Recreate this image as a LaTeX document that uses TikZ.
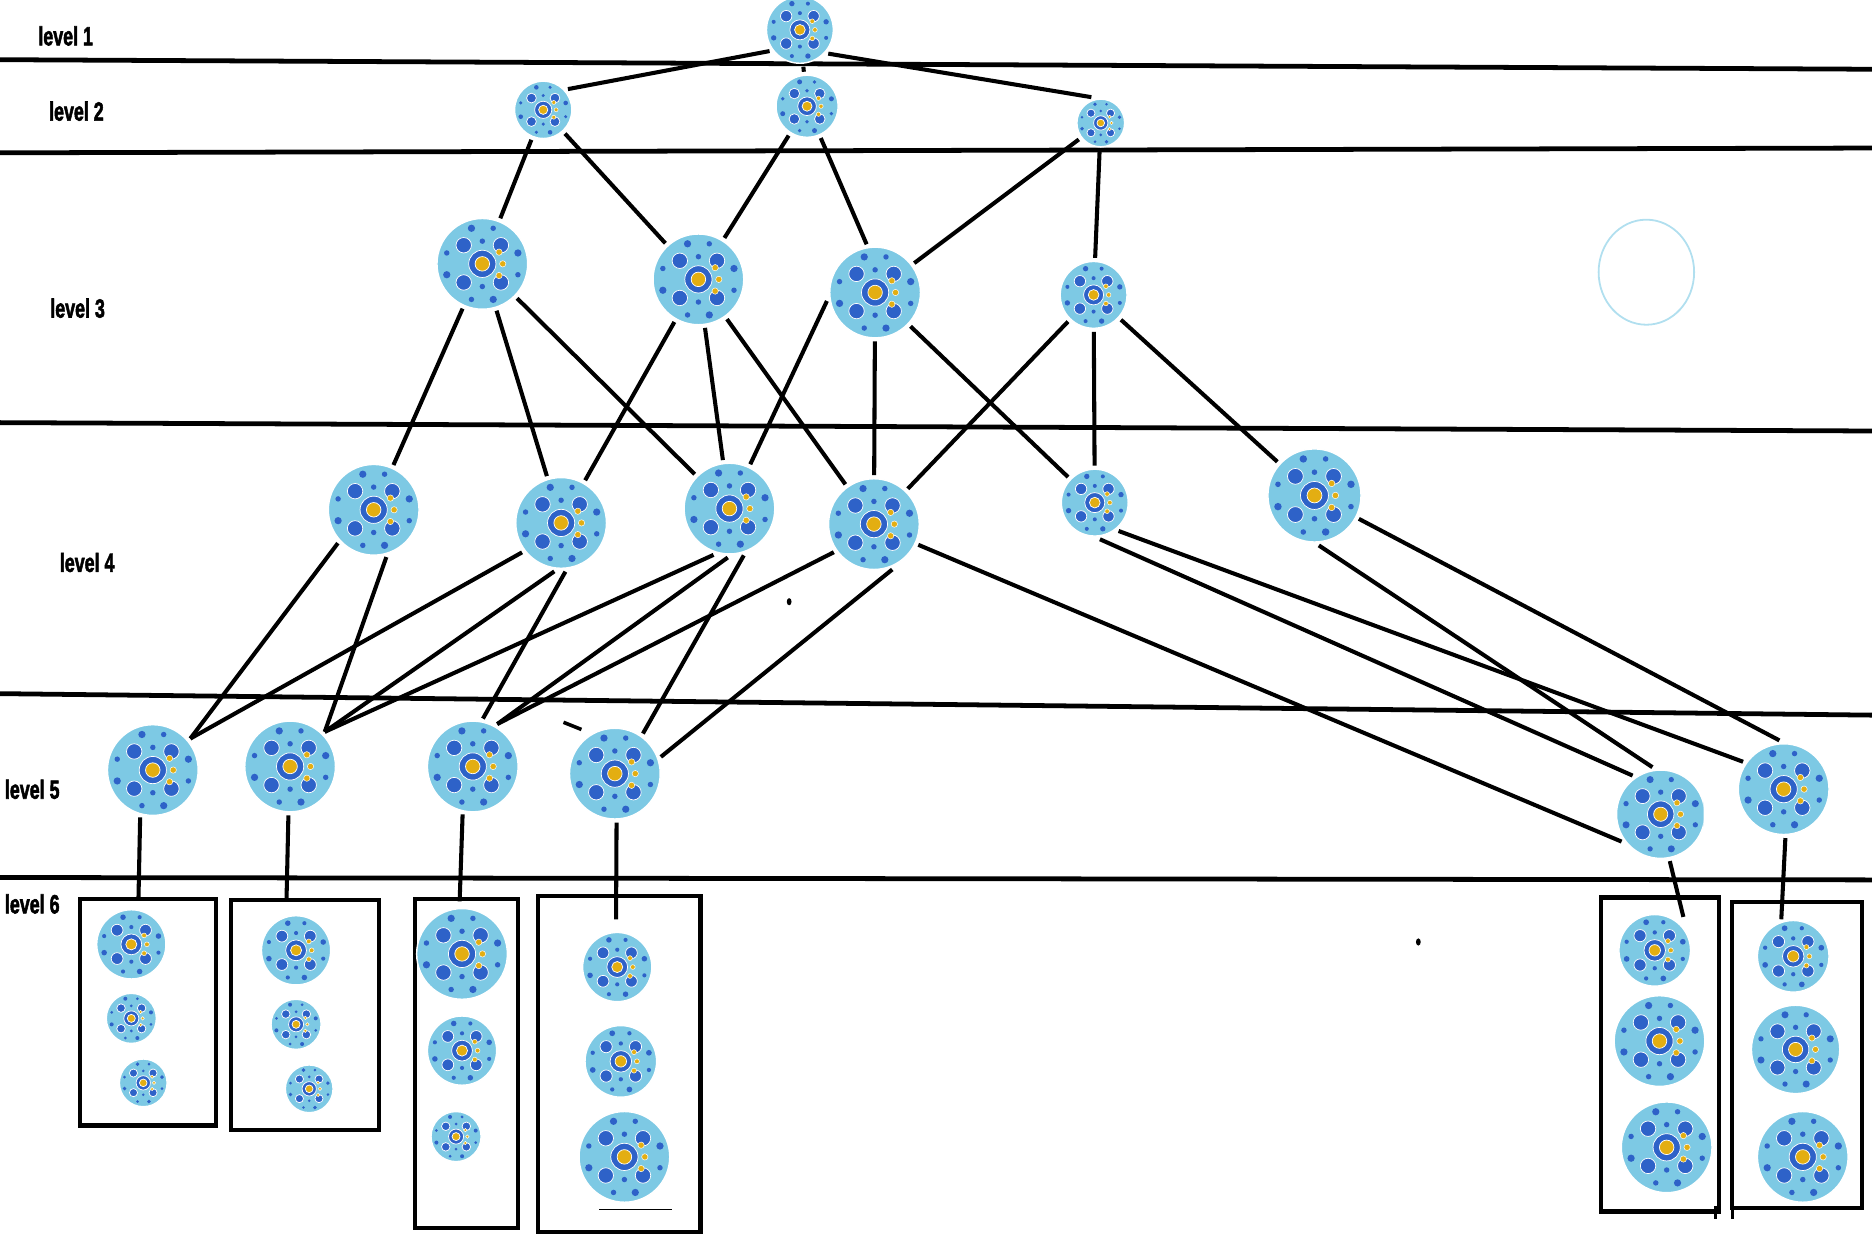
\documentclass[tikz,border=0pt]{standalone}
\usepackage{fontspec}
\setmainfont{Liberation Sans}
\newfontfamily\labelfont{Liberation Sans}[FakeBold=2.5]
\definecolor{cellsky}{HTML}{7DC9E4}
\definecolor{cellblue}{HTML}{2E62C8}
\definecolor{cellgold}{HTML}{E3AE12}
\tikzstyle{level line}=[draw=black,line width=4]
\tikzstyle{link}=[draw=black,line width=3.4]
\tikzstyle{group box}=[draw=black,line width=3.5,inner sep=0]
\tikzstyle{bubble}=[circle,inner sep=0,outer sep=3]
\tikzstyle{level label}=[anchor=base west,inner sep=0,xscale=0.68,
                         font=\labelfont\bfseries\fontsize{22}{22}\selectfont]

% one cell picture: x, y, radius
\newcommand{\blob}[3]{%
  \begin{scope}[shift={(#1,#2)}]
    \fill[cellsky,draw=white,line width=1.2] (0,0) circle (#3);
    \foreach \ang in {45,135,225,315}{
      \filldraw[fill=cellblue,draw=white,line width=0.6] (\ang:0.58*#3) circle (0.17*#3);
      \fill[cellblue] (\ang+28:0.82*#3) circle (0.08*#3);
      \fill[cellblue] (\ang-28:0.82*#3) circle (0.06*#3);
    }
    \filldraw[fill=cellblue,draw=white,line width=0.6] (0,0) circle (0.3*#3);
    \filldraw[fill=cellgold,draw=white,line width=0.6] (0,0) circle (0.16*#3);
    \foreach \ang in {-35,0,35}
      \filldraw[fill=cellgold,draw=white,line width=0.4] (\ang:0.45*#3) circle (0.07*#3);
    \fill[cellblue] (90:0.5*#3) circle (0.06*#3);
    \fill[cellblue] (270:0.5*#3) circle (0.06*#3);
  \end{scope}
}

\begin{document}
\begin{tikzpicture}[x=1pt,y=-1pt]
        \useasboundingbox (0,0) rectangle (1568,1035);

        % LEVEL LINES
        \foreach \ya/\yb [count=\i] in {50/58,128/124,354/361,581/599,735/737}{
          \draw[level line] (0,\ya) -- (1568,\yb);
        }

        % LABELS
        \foreach \i/\x/\y in {1/32/38,2/41/101,3/42/266,4/50/479,5/4/669,6/4/765}{
          \node[level label] (lab\i) at (\x,\y) {level \i};
        }

        % CELLS, LEVELS 1 TO 5
        \foreach \n/\x/\y/\rad in {T/670/25/28,
            A1/455/92/24, A2/676/89/26, A3/922/103/20,
            B1/404/221/38, B2/585/234/38, B3/733/245/38, B4/916/247/28,
            C1/313/427/38, C2/470/438/38, C3/611/426/38, C4/732/439/38,
            C5/917/421/28, C6/1101/415/39,
            D1/128/645/38, D2/243/642/38, D3/396/642/38, D4/515/648/38,
            D6/1494/661/38}{
          \blob{\x}{\y}{\rad}
          \node[bubble,minimum size=2*\rad] (\n) at (\x,\y) {};
        }
        \begin{scope}
          \clip (1340,630) rectangle (1427,730);
          \blob{1391}{682}{37}
        \end{scope}
        \node[bubble,minimum size=74] (D5) at (1391,682) {};

        % faint empty cell
        \draw[cellsky,line width=1.5,opacity=0.6] (1379,228) ellipse (40 and 44);

        % LEVEL 6 GROUPS
        \foreach \n/\x/\y/\w/\h in {E1/65/751/114/190, E2/192/752/124/193,
            E3/346/751/86/276, E4/449/749/136/281,
            E5/1339/750/99/263, E6/1449/754/109/256}{
          \node[group box,anchor=north west,minimum width=\w,minimum height=\h] (\n) at (\x,\y) {};
        }
        \foreach \x/\y/\rad in {110/791/29, 110/853/21, 120/907/20,
            248/796/29, 248/858/21, 259/912/20,
            387/799/38, 387/880/29, 382/952/21,
            517/810/29, 520/889/30, 523/969/38,
            1386/796/30, 1390/872/38, 1396/961/38,
            1502/801/30, 1504/879/37, 1510/969/38}{
          \blob{\x}{\y}{\rad}
        }
        \draw[line width=3] (1437,1010) -- (1437,1021);
        \draw[line width=3] (1451,1008) -- (1451,1021);
        \draw[line width=1.5] (502,1013) -- (563,1013);

        \coordinate (e1) at (116,752);
        \coordinate (e2) at (240,753);
        \coordinate (e3) at (385,755);
        \coordinate (e4) at (516,770);
        \coordinate (e5) at (1410,768);
        \coordinate (e6) at (1492,770);

        % LINKS
        \foreach \a/\b in {T.215/A1.40, T/A2, T.320/A3.110,
            A1/B1, A1/B2, A2/B2, A2/B3.100, A3/B3, A3/B4,
            B1/C1, B1/C2, B1/C3, B2/C2, B2/C3, B2/C4, B3.190/C3,
            B3/C4, B3/C5, B4/C4, B4/C5, B4/C6,
            C1.223/D1.40, C1.285/D2.45, C2.217/D1.40, C2.262/D2.45,
            C2.275/D3.78, C3.251/D2.45, C3.268/D3.60, C3.287/D4.55,
            C4.215/D3.60, C4.292/D4.20, C4.335/D5.215, C5.278/D5.126,
            C5.310/D6.146, C6.275/D5.100, C6/D6.95,
            D1.255/e1, D2.268/e2, D3.258/e3, D4.272/e4, D5.281/e5, D6.272/e6}{
          \draw[link] (\a) -- (\b);
        }

        % stray marks
        \fill (661,504) ellipse (2 and 3);
        \fill (1188,789) ellipse (2 and 3);
        \draw[line width=3] (472,605) -- (487,611);

    \end{tikzpicture}
\end{document}
